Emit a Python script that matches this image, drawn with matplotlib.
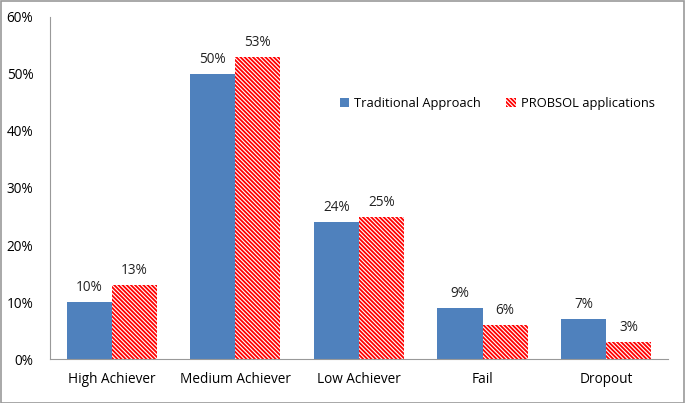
import numpy as np
import matplotlib.pyplot as plt
from matplotlib.patches import Rectangle

categories = ['High Achiever', 'Medium Achiever', 'Low Achiever', 'Fail', 'Dropout']
traditional = [10, 50, 24, 9, 7]
probsol = [13, 53, 25, 6, 3]

plt.rcParams['font.family'] = ['Open Sans', 'DejaVu Sans']
plt.rcParams['hatch.linewidth'] = 1.3

fig = plt.figure(figsize=(6.85, 4.03), dpi=100)
ax = fig.add_axes([0.073, 0.109, 0.902, 0.849])

x = np.arange(len(categories))
w = 0.365
b1 = ax.bar(x - w / 2, traditional, w, color='#4f81bd', label='Traditional Approach')
b2 = ax.bar(x + w / 2, probsol, w, facecolor='white', edgecolor='#ff0000', hatch='\\' * 8,
            linewidth=0, label='PROBSOL applications')

for rect, v in zip(b1, traditional):
    ax.text(rect.get_x() + rect.get_width() / 2, v + 1.2, f'{v}%', ha='center', va='bottom',
            fontsize=9.8, color='#222222')
for rect, v in zip(b2, probsol):
    ax.text(rect.get_x() + rect.get_width() / 2, v + 1.2, f'{v}%', ha='center', va='bottom',
            fontsize=9.8, color='#222222')

ax.set_xlim(-0.5, len(categories) - 0.5)
ax.set_ylim(0, 60)
ax.set_yticks(range(0, 61, 10))
ax.set_yticklabels([f'{t}%' for t in range(0, 61, 10)], fontsize=9.8)
ax.set_xticks(x)
ax.set_xticklabels(categories, fontsize=9.8)
ax.tick_params(length=0, pad=9)
ax.tick_params(axis='y', pad=12)
for s in ['top', 'right']:
    ax.spines[s].set_visible(False)
for s in ['left', 'bottom']:
    ax.spines[s].set_color('#999999')

ax.legend(loc='upper left', bbox_to_anchor=(0.45, 0.8), ncol=2, frameon=False, fontsize=9.3,
          handlelength=0.7, handleheight=0.7, handletextpad=0.4, columnspacing=2.0)

fig.patches.append(Rectangle((0.001, 0.001), 0.997, 0.997, transform=fig.transFigure,
                             fill=False, edgecolor='#999999', linewidth=1.2))

fig.savefig('out.png', dpi=100)
